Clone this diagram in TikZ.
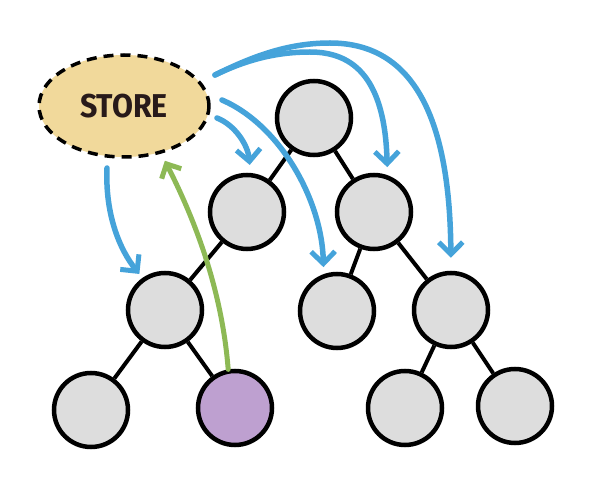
\documentclass[tikz,border=0pt]{standalone}
\usepackage{fontspec}
\newfontfamily\storefont{Fira Sans}
\usetikzlibrary{shapes.geometric,arrows.meta}
\definecolor{nodegrey}{RGB}{221,221,221}
\definecolor{nodepurple}{RGB}{190,160,208}
\definecolor{storefill}{RGB}{241,217,155}
\definecolor{storetext}{RGB}{40,26,26}
\definecolor{arrowblue}{RGB}{69,163,218}
\definecolor{arrowgreen}{RGB}{141,185,85}
\tikzset{
  treenode/.style={circle, draw=black, line width=4.5pt, fill=nodegrey, minimum size=74pt, inner sep=0pt},
  purplenode/.style={treenode, fill=nodepurple},
  treeedge/.style={line width=4pt, draw=black},
  bluearrow/.style={line width=5.5pt, draw=arrowblue, line cap=round,
    -{Straight Barb[length=12pt,width=24pt,line width=5pt]}},
  greenarrow/.style={line width=5pt, draw=arrowgreen, line cap=round,
    -{Straight Barb[length=11pt,width=22pt,line width=5pt]}},
  storebox/.style={ellipse, draw=black, dashed, dash pattern=on 10pt off 7pt, line width=3.5pt,
    fill=storefill, minimum width=170pt, minimum height=102pt, inner sep=0pt,
    font=\storefont\bfseries\fontsize{33}{36}\selectfont, text=storetext}
}
\begin{document}
\begin{tikzpicture}[x=1pt,y=-1pt]
\useasboundingbox (0,0) rectangle (603,478);
% store
\node[storebox] (store) at (124,106) {\scalebox{0.92}[1]{STORE}};
% tree nodes
\node[treenode] (root) at (314,118) {};
\node[treenode] (l1l) at (247,212) {};
\node[treenode] (l1r) at (374,212) {};
\node[treenode] (l2l) at (165,310) {};
\node[treenode] (l2m) at (337,311) {};
\node[treenode] (l2r) at (451,310) {};
\node[treenode] (l3a) at (91,410) {};
\node[purplenode] (l3b) at (235,408) {};
\node[treenode] (l3c) at (405,408) {};
\node[treenode] (l3d) at (515,406) {};
% edges
\draw[treeedge] (root) -- (l1l);
\draw[treeedge] (root) -- (l1r);
\draw[treeedge] (l1l) -- (l2l);
\draw[treeedge] (l1r) -- (l2m);
\draw[treeedge] (l1r) -- (l2r);
\draw[treeedge] (l2l) -- (l3a);
\draw[treeedge] (l2l) -- (l3b);
\draw[treeedge] (l2r) -- (l3c);
\draw[treeedge] (l2r) -- (l3d);
% arrow start points
\coordinate (s1) at (215,75);
\coordinate (s3) at (222,100);
\coordinate (s4) at (217,118);
\coordinate (s5) at (107,168);
% blue arrows
\draw[bluearrow, shorten >=13pt] (s1) .. controls (255,55) and (290,43) .. (330,43)
   .. controls (420,43) and (450,130) .. (l2r.north);
\draw[bluearrow, shorten >=8pt] (s1) .. controls (250,58) and (280,52) .. (310,52)
   .. controls (355,52) and (385,80) .. (l1r.70);
\draw[bluearrow, shorten >=7pt] (s3) .. controls (280,125) and (322,200) .. (l2m.110);
\draw[bluearrow, shorten >=8pt] (s4) .. controls (235,125) and (248,145) .. (l1l.85);
\draw[bluearrow, shorten >=5pt] (s5) .. controls (105,215) and (120,250) .. (l2l.125);
% green arrow
\draw[greenarrow, shorten >=8pt] (l3b.100) .. controls (222,290) and (195,220) .. (store.-52);
\end{tikzpicture}
\end{document}
